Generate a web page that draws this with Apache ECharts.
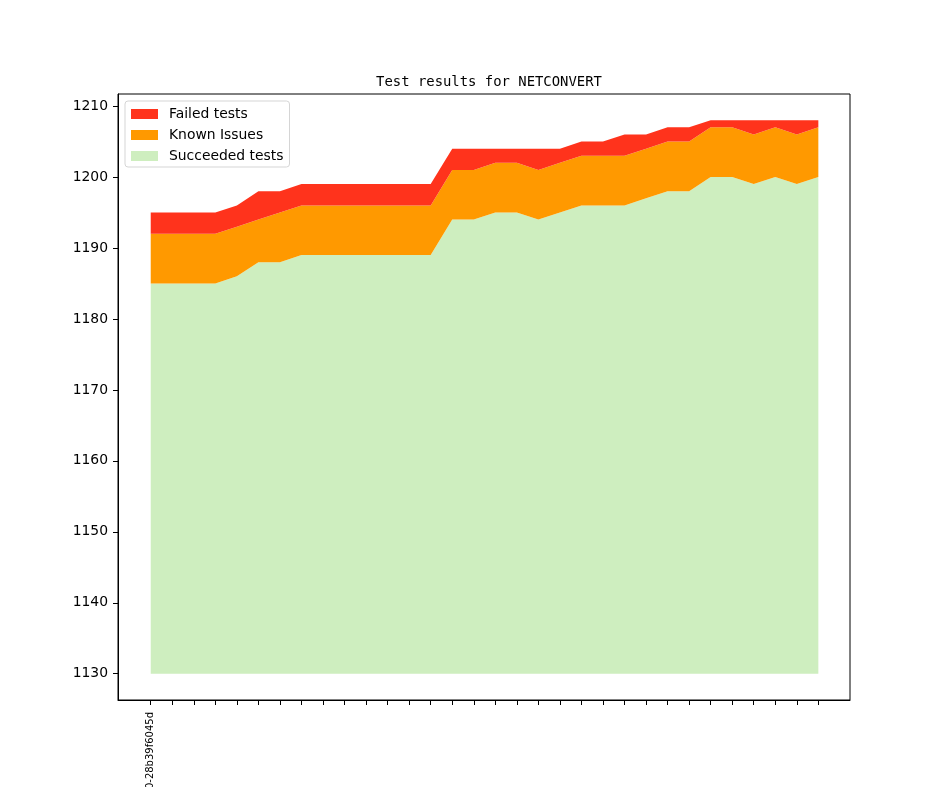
<!DOCTYPE html>
<html>

<head>
    <meta charset="utf-8" />
    <title>NETCONVERT test results</title>
    <script src="https://cdn.jsdelivr.net/npm/echarts@6.0.0/dist/echarts.min.js"></script>
    <style>
        body { margin: 0; background: #fff; }
    </style>
</head>

<body>
    <div id="main" style="width: 944px;height:787px;"></div>
    <script type="text/javascript">
        // revisions (only the first one is labelled)
        var labels = ['0-28b39f6045d', '', '', '', '', '', '', '', '', '', '', '', '', '', '', '',
            '', '', '', '', '', '', '', '', '', '', '', '', '', '', '', ''];
        var succeeded = [1185, 1185, 1185, 1185, 1186, 1188, 1188, 1189, 1189, 1189, 1189, 1189, 1189, 1189, 1194, 1194,
            1195, 1195, 1194, 1195, 1196, 1196, 1196, 1197, 1198, 1198, 1200, 1200, 1199, 1200, 1199, 1200];
        var known = [7, 7, 7, 7, 7, 6, 7, 7, 7, 7, 7, 7, 7, 7, 7, 7,
            7, 7, 7, 7, 7, 7, 7, 7, 7, 7, 7, 7, 7, 7, 7, 7];
        var failed = [3, 3, 3, 3, 3, 4, 3, 3, 3, 3, 3, 3, 3, 3, 3, 3,
            2, 2, 3, 2, 2, 2, 3, 2, 2, 2, 1, 1, 2, 1, 2, 1];
        var floorValue = 1130; // the green band starts here
        var yTicks = [1130, 1140, 1150, 1160, 1170, 1180, 1190, 1200, 1210];

        var idx = labels.map(function (l, i) { return i; });

        // value first, index second: stacking then runs on y (dimension 0)
        function pairs(arr) {
            return arr.map(function (v, i) { return [v, i]; });
        }

        function band(name, data, color) {
            return {
                name: name,
                type: 'line',
                stack: 'total',
                encode: { x: 1, y: 0 },
                data: pairs(data),
                showSymbol: false,
                silent: true,
                lineStyle: { width: 0 },
                itemStyle: { color: color },
                areaStyle: { color: color, opacity: 1 }
            };
        }

        var myChart = echarts.init(document.getElementById('main'));

        var option = {
            animation: false,
            title: {
                text: 'Test results for NETCONVERT',
                left: 484,
                top: 70,
                textAlign: 'center',
                textStyle: {
                    fontFamily: 'DejaVu Sans Mono',
                    fontSize: 13.9,
                    fontWeight: 'normal',
                    color: '#000'
                }
            },
            legend: {
                orient: 'vertical',
                left: 125,
                top: 101,
                padding: [6, 6, 4, 6],
                itemWidth: 27,
                itemHeight: 10,
                itemGap: 7,
                icon: 'rect',
                backgroundColor: '#fff',
                borderColor: '#d5d5d5',
                borderWidth: 1,
                borderRadius: 3,
                data: ['Failed tests', 'Known Issues', 'Succeeded tests'],
                textStyle: {
                    fontFamily: 'DejaVu Sans',
                    fontSize: 13.9,
                    color: '#000',
                    padding: [0, 0, 0, 6]
                }
            },
            grid: {
                left: 118,
                top: 94,
                width: 732,
                height: 606,
                outerBoundsMode: 'none',
                show: true,
                borderColor: '#000',
                borderWidth: 1,
                backgroundColor: 'transparent'
            },
            xAxis: {
                type: 'value',
                min: -1.52,
                max: 32.47,
                splitLine: { show: false },
                axisLine: { show: true, onZero: false, lineStyle: { color: '#000' } },
                axisTick: { show: true, length: 5, customValues: idx, lineStyle: { color: '#000' } },
                axisLabel: {
                    customValues: [0],
                    rotate: 90,
                    margin: 12,
                    fontFamily: 'DejaVu Sans',
                    fontSize: 10,
                    color: '#000',
                    formatter: function (v) { return labels[Math.round(v)] || ''; }
                }
            },
            yAxis: {
                type: 'value',
                min: 1126.3,
                max: 1211.7,
                splitLine: { show: false },
                axisLine: { show: true, onZero: false, lineStyle: { color: '#000' } },
                axisTick: { show: true, length: 5, customValues: yTicks, lineStyle: { color: '#000' } },
                axisLabel: {
                    customValues: yTicks,
                    margin: 10,
                    fontFamily: 'DejaVu Sans',
                    fontSize: 13.9,
                    color: '#000',
                    formatter: function (v) { return String(v); }
                }
            },
            series: [
                {
                    name: 'base',
                    type: 'line',
                    stack: 'total',
                    encode: { x: 1, y: 0 },
                    data: pairs(labels.map(function () { return floorValue; })),
                    showSymbol: false,
                    silent: true,
                    lineStyle: { width: 0, opacity: 0 }
                },
                band('Succeeded tests', succeeded.map(function (v) { return v - floorValue; }), '#ceeebf'),
                band('Known Issues', known, '#ff9900'),
                band('Failed tests', failed, '#ff331c')
            ]
        };

        myChart.setOption(option);
    </script>
</body>

</html>
